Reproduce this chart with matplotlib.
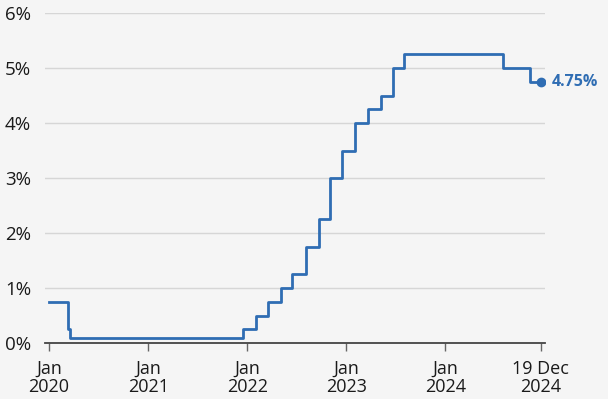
import pandas as pd
import matplotlib.pyplot as plt

plt.rcParams['font.family'] = ['Open Sans', 'DejaVu Sans']

# Bank Rate change dates and new rates (%)
dates = ['2020-01-01', '2020-03-11', '2020-03-19', '2021-12-16', '2022-02-03',
         '2022-03-17', '2022-05-05', '2022-06-16', '2022-08-04', '2022-09-22',
         '2022-11-03', '2022-12-15', '2023-02-02', '2023-03-23', '2023-05-11',
         '2023-06-22', '2023-08-03', '2024-08-01', '2024-11-07', '2024-12-19']
rates = [0.75, 0.25, 0.1, 0.25, 0.5, 0.75, 1.0, 1.25, 1.75, 2.25,
         3.0, 3.5, 4.0, 4.25, 4.5, 5.0, 5.25, 5.0, 4.75, 4.75]

tick_dates = ['2020-01-01', '2021-01-01', '2022-01-01', '2023-01-01', '2024-01-01', '2024-12-19']
tick_labels = ['Jan\n2020', 'Jan\n2021', 'Jan\n2022', 'Jan\n2023', 'Jan\n2024', '19 Dec\n2024']
y_ticks = [0, 1, 2, 3, 4, 5, 6]

data = pd.DataFrame({'date': pd.to_datetime(dates), 'rate': rates})

bg = '#f5f5f5'
blue = '#2f6db3'

fig = plt.figure(figsize=(6.08, 3.99), dpi=100, facecolor=bg)
ax = fig.add_axes([45 / 608, 1 - 343 / 399, 500 / 608, 330 / 399], facecolor=bg)

ax.step(data['date'], data['rate'], where='post', color=blue, lw=2.0, zorder=3)
ax.plot(data['date'].iloc[-1], data['rate'].iloc[-1], 'o', color=blue, ms=6, zorder=4)
ax.annotate(f"{data['rate'].iloc[-1]:.2f}%", (data['date'].iloc[-1], data['rate'].iloc[-1]),
            xytext=(8, 0), textcoords='offset points', va='center', ha='left',
            color=blue, fontsize=11.5, fontweight='bold', annotation_clip=False)

ax.set_xlim(pd.Timestamp('2019-12-17'), pd.Timestamp('2025-01-03'))
ax.set_ylim(0, 6)
ax.set_yticks(y_ticks)
ax.set_yticklabels([f'{v}%' for v in y_ticks])
ax.set_xticks(pd.to_datetime(tick_dates))
ax.set_xticklabels(tick_labels, linespacing=1.0)

ax.grid(axis='y', color='#d6d6d6', lw=1)
ax.set_axisbelow(True)
for side in ['top', 'right', 'left']:
    ax.spines[side].set_visible(False)
ax.spines['bottom'].set_color('#444444')
ax.spines['bottom'].set_linewidth(1.3)
ax.tick_params(axis='y', length=0, pad=0, labelsize=13.5, colors='#1a1a1a')
ax.tick_params(axis='x', length=6, width=1, color='#666666', pad=6, labelsize=13, labelcolor='#1a1a1a')
for lbl in ax.get_yticklabels():
    lbl.set_horizontalalignment('left')
    lbl.set_x(-40 / 500)

plt.savefig('out.png', facecolor=bg)
